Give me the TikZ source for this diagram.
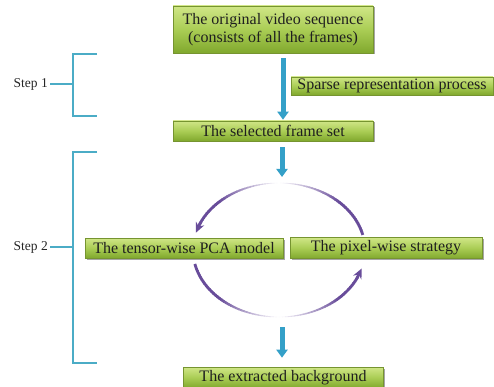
\documentclass[tikz,border=0pt]{standalone}
\usepackage{fontspec}
\setmainfont{Liberation Serif}
\usetikzlibrary{arrows.meta,shadows,calc}
\definecolor{brk}{RGB}{75,172,198}
\definecolor{arw}{RGB}{52,160,200}
\definecolor{arcp}{RGB}{104,76,154}
\definecolor{gtop}{RGB}{208,230,135}
\definecolor{gmid}{RGB}{170,205,85}
\definecolor{gbot}{RGB}{128,168,45}
\definecolor{gbrd}{RGB}{118,148,48}
\begin{document}
\begin{tikzpicture}[x=1pt,y=-1pt,
  box/.style={draw=gbrd, line width=0.6pt, top color=gtop, bottom color=gbot, middle color=gmid,
    inner sep=0pt, font=\fontsize{16}{18.5}\selectfont, text=black!88, align=center,
    drop shadow={shadow xshift=1.5pt,shadow yshift=-1.5pt,opacity=0.35,fill=black}},
  steplbl/.style={inner sep=0pt, font=\fontsize{13.5}{15}\selectfont, text=black!85},
  bracket/.style={draw=brk, line width=2pt},
  barrow/.style={draw=arw, line width=5pt, -{Triangle[length=8pt,width=11pt]}},
  parrow/.style={draw=arcp, line width=2.8pt, -{Stealth[length=10pt,width=9pt]}}
]
\useasboundingbox (0,0) rectangle (494,387);

% boxes
\node[box, minimum width=200pt, minimum height=47pt] (top) at (273,29.5)
  {The original video sequence\\(consists of all the frames)};
\node[box, minimum width=202pt, minimum height=18pt] (sparse) at (392,86) {Sparse representation process};
\node[box, minimum width=200pt, minimum height=20pt] (sel) at (273,131) {The selected frame set};
\node[box, minimum width=198pt, minimum height=20pt] (tensor) at (184,248) {The tensor-wise PCA model};
\node[box, minimum width=192pt, minimum height=21pt] (pixel) at (386,248) {The pixel-wise strategy};
\node[box, minimum width=200pt, minimum height=21pt] (ext) at (283,377.5) {The extracted background};

% blue arrows
\coordinate (ax) at (283,0);
\coordinate (bx) at (282,0);
\coordinate (a2end) at (282,177);
\coordinate (a3start) at (282,327);
\draw[barrow, shorten <=5pt, shorten >=1pt] (top.south -| ax) -- (sel.north -| ax);
\draw[barrow, shorten <=6pt] (sel.south -| bx) -- (a2end);
\draw[barrow, shorten >=9pt] (a3start) -- (ext.north -| bx);

% purple cycle arcs (fading toward top and bottom)
\foreach \a in {13,15,...,155}{
  \pgfmathtruncatemacro\p{min(100,abs(\a+1-90)*2.3)}
  \pgfmathsetmacro\w{0.5+2.3*\p/100}
  \draw[line width=\w pt, draw=arcp!\p!white]
    ({279+86*cos(\a)},{250-67*sin(\a)}) -- ({279+86*cos(\a+2.5)},{250-67*sin(\a+2.5)});
}
\draw[parrow] ({279+86*cos(156)},{250-67*sin(156)}) -- ({279+86*cos(165)},{250-67*sin(165)});
\foreach \a in {192,194,...,334}{
  \pgfmathtruncatemacro\p{min(100,abs(\a+1-270)*2.3)}
  \pgfmathsetmacro\w{0.5+2.3*\p/100}
  \draw[line width=\w pt, draw=arcp!\p!white]
    ({279+86*cos(\a)},{250-67*sin(\a)}) -- ({279+86*cos(\a+2.5)},{250-67*sin(\a+2.5)});
}
\draw[parrow] ({279+86*cos(335)},{250-67*sin(335)}) -- ({279+86*cos(344)},{250-67*sin(344)});

% brackets
\node[steplbl, anchor=east] (s1) at (48,84) {Step 1};
\node[steplbl, anchor=east] (s2) at (48,247) {Step 2};
\coordinate (b1a) at (97,54);
\coordinate (b1b) at (97,116);
\coordinate (b2a) at (97,152);
\coordinate (b2b) at (97,363);
\coordinate (bv) at (73,0);
\draw[bracket] (b1a) -- (b1a -| bv) -- (b1b -| bv) -- (b1b);
\draw[bracket] (b2a) -- (b2a -| bv) -- (b2b -| bv) -- (b2b);
\draw[bracket] ([xshift=2pt]s1.east) -- (s1.east -| bv);
\draw[bracket] ([xshift=2pt]s2.east) -- (s2.east -| bv);
\end{tikzpicture}
\end{document}
